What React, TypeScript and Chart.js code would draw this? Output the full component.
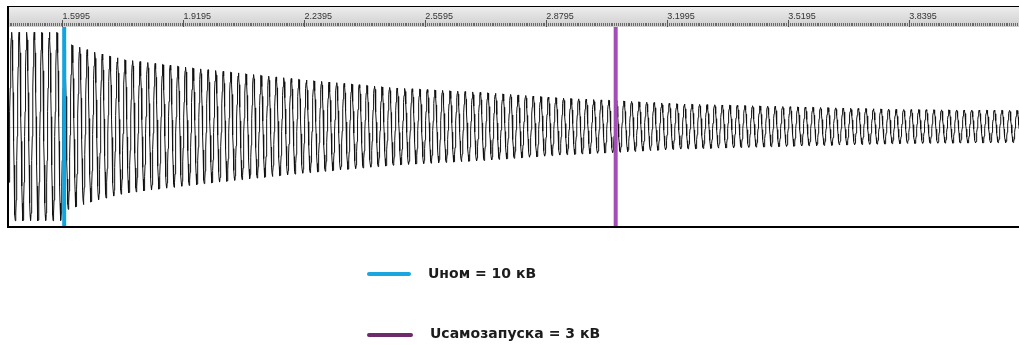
import React, { useEffect, useRef } from "react";
import { Chart, registerables } from "chart.js";

Chart.register(...registerables);

// Time window of the oscillogram, seconds
const TIME_START = 1.458;
const TIME_END = 4.13;

// Ruler (top axis) ticks and their labels
const TICK_VALUES = [1.5995, 1.9195, 2.2395, 2.5595, 2.8795, 3.1995, 3.5195, 3.8395];
const TICK_LABELS = ["1.5995", "1.9195", "2.2395", "2.5595", "2.8795", "3.1995", "3.5195", "3.8395"];
const MINOR_STEP = 0.005;

// Mains frequency of the bus voltage, Hz
const MAINS_HZ = 50;

// Voltage envelope (kV) at the listed moments (s)
const ENVELOPE_T = [1.458, 1.604, 1.6045, 1.623, 1.684, 1.763, 1.843, 1.967, 2.226, 2.478, 2.716, 2.927, 3.063, 3.231, 3.522, 3.826, 4.13];
const ENVELOPE_KV = [10, 10, 8.9, 8.7, 7.9, 7.1, 6.7, 6.1, 5.0, 4.1, 3.6, 3.0, 2.75, 2.4, 2.1, 1.8, 1.7];

// Marker moments: supply lost at nominal voltage, self-start threshold reached
const MARKER_NOMINAL_T = 1.604;
const MARKER_RESTART_T = 3.063;

const LEGEND_LABELS = ["Uном = 10 кВ", "Uсамозапуска = 3 кВ"];

const Y_LIMIT = 10.5;
const SAMPLES_PER_CYCLE = 24;

function envelopeAt(t: number): number {
  if (t <= ENVELOPE_T[0]) return ENVELOPE_KV[0];
  for (let i = 1; i < ENVELOPE_T.length; i++) {
    if (t <= ENVELOPE_T[i]) {
      const k = (t - ENVELOPE_T[i - 1]) / (ENVELOPE_T[i] - ENVELOPE_T[i - 1]);
      return ENVELOPE_KV[i - 1] + k * (ENVELOPE_KV[i] - ENVELOPE_KV[i - 1]);
    }
  }
  return ENVELOPE_KV[ENVELOPE_KV.length - 1];
}

function buildWave() {
  const pts: { x: number; y: number }[] = [];
  const dt = 1 / (MAINS_HZ * SAMPLES_PER_CYCLE);
  const n = Math.ceil((TIME_END - TIME_START) / dt);
  for (let i = 0; i <= n; i++) {
    const t = TIME_START + i * dt;
    pts.push({ x: t, y: envelopeAt(t) * Math.sin(2 * Math.PI * MAINS_HZ * t) });
  }
  return pts;
}

const rulerPlugin = {
  id: "ruler",
  beforeDraw(chart: any) {
    const { ctx, chartArea, scales } = chart;
    const x = scales.x;
    ctx.save();
    ctx.fillStyle = "#ffffff";
    ctx.fillRect(0, 0, chart.width, chart.height);
    const g = ctx.createLinearGradient(0, x.top, 0, x.bottom);
    g.addColorStop(0, "#ededed");
    g.addColorStop(1, "#cfcfcf");
    ctx.fillStyle = g;
    ctx.fillRect(chartArea.left, x.top, chartArea.right - chartArea.left, x.bottom - x.top);
    // minor ruler marks
    ctx.strokeStyle = "#6a6a6a";
    ctx.lineWidth = 1;
    ctx.beginPath();
    const first = TICK_VALUES[0] - Math.floor((TICK_VALUES[0] - TIME_START) / MINOR_STEP) * MINOR_STEP;
    for (let v = first; v <= TIME_END; v += MINOR_STEP) {
      const px = Math.round(x.getPixelForValue(v)) + 0.5;
      ctx.moveTo(px, x.bottom - 4);
      ctx.lineTo(px, x.bottom - 1);
    }
    ctx.stroke();
    ctx.restore();
  },
  beforeDatasetsDraw(chart: any) {
    const { ctx, chartArea, scales } = chart;
    const y0 = Math.round(scales.y.getPixelForValue(0)) + 0.5;
    ctx.save();
    ctx.strokeStyle = "#d2d2d2";
    ctx.lineWidth = 1;
    ctx.beginPath();
    ctx.moveTo(chartArea.left, y0);
    ctx.lineTo(chartArea.right, y0);
    ctx.stroke();
    ctx.restore();
  },
  afterDraw(chart: any) {
    const { ctx, chartArea, scales } = chart;
    const top = scales.x.top - 1;
    ctx.save();
    ctx.fillStyle = "#000000";
    ctx.fillRect(chartArea.left - 2, top, chartArea.right - chartArea.left + 2, 1);
    ctx.fillRect(chartArea.left - 2, top, 2, chartArea.bottom - top + 2);
    ctx.fillRect(chartArea.left - 2, chartArea.bottom, chartArea.right - chartArea.left + 2, 2);
    ctx.restore();
  },
};

export default function App() {
  const ref = useRef<HTMLCanvasElement>(null);

  useEffect(() => {
    if (!ref.current) return;
    const wave = buildWave();
    const chart = new Chart(ref.current, {
      type: "line",
      data: {
        datasets: [
          {
            label: LEGEND_LABELS[0],
            data: [
              { x: MARKER_NOMINAL_T, y: -Y_LIMIT },
              { x: MARKER_NOMINAL_T, y: Y_LIMIT },
            ],
            borderColor: "#15a3de",
            borderWidth: 4,
            pointRadius: 0,
            order: 0,
          },
          {
            label: LEGEND_LABELS[1],
            data: [
              { x: MARKER_RESTART_T, y: -Y_LIMIT },
              { x: MARKER_RESTART_T, y: Y_LIMIT },
            ],
            borderColor: "#a44db6",
            borderWidth: 4,
            pointRadius: 0,
            order: 0,
          },
          {
            label: "U",
            data: wave,
            borderColor: "#111111",
            borderWidth: 1,
            pointRadius: 0,
            tension: 0,
            order: 1,
          },
        ],
      },
      options: {
        responsive: false,
        animation: false,
        devicePixelRatio: 1,
        parsing: false,
        normalized: true,
        layout: { padding: { left: 9, right: 0, top: 7, bottom: 119 } },
        scales: {
          x: {
            type: "linear",
            position: "top",
            min: TIME_START,
            max: TIME_END,
            afterBuildTicks: (s: any) => {
              s.ticks = TICK_VALUES.map((v) => ({ value: v }));
            },
            afterFit: (s: any) => {
              s.height = 20;
            },
            ticks: {
              align: "start",
              maxRotation: 0,
              autoSkip: false,
              padding: -2,
              color: "#333333",
              font: { family: '"Liberation Sans", Arial, sans-serif', size: 9 },
              callback: (_v: any, i: number) => TICK_LABELS[i],
            },
            grid: {
              drawOnChartArea: false,
              drawTicks: true,
              tickLength: 7,
              tickColor: "#555555",
              tickWidth: 1,
            },
            border: { display: false },
          },
          y: { display: false, min: -Y_LIMIT, max: Y_LIMIT },
        },
        plugins: {
          legend: { display: false },
          tooltip: { enabled: false },
        },
      },
      plugins: [rulerPlugin],
    } as any);
    return () => chart.destroy();
  }, []);

  const textStyle: React.CSSProperties = {
    position: "absolute",
    fontFamily: '"DejaVu Sans", "Liberation Sans", Arial, sans-serif',
    fontWeight: 700,
    fontSize: 14,
    lineHeight: "20px",
    color: "#1c1c1c",
    whiteSpace: "nowrap",
  };

  return (
    <div style={{ position: "absolute", left: 0, top: 0, width: 1019, height: 345, background: "#ffffff" }}>
      <canvas ref={ref} width={1019} height={345} style={{ display: "block", width: 1019, height: 345 }} />
      <div style={{ position: "absolute", left: 367, top: 272, width: 44, height: 4, background: "#1ba6e0", borderRadius: 2 }} />
      <div style={{ ...textStyle, left: 428, top: 263 }}>{LEGEND_LABELS[0]}</div>
      <div style={{ position: "absolute", left: 367, top: 333, width: 46, height: 4, background: "#6e2a6a", borderRadius: 2 }} />
      <div style={{ ...textStyle, left: 430, top: 323 }}>{LEGEND_LABELS[1]}</div>
    </div>
  );
}
